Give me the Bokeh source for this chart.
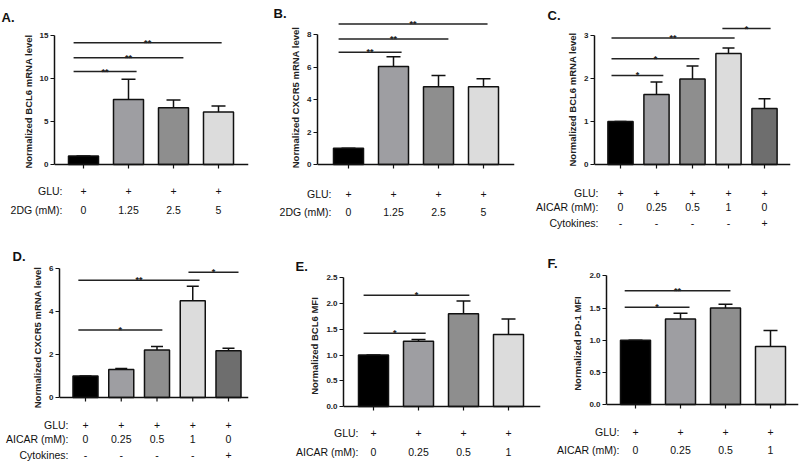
from bokeh.plotting import figure
from bokeh.models import (Range1d, FixedTicker, Whisker, TeeHead, Span,
                          ColumnDataSource, PrintfTickFormatter)
from bokeh.layouts import row, column
from bokeh.embed import file_html
from bokeh.resources import INLINE
from bokeh.core.properties import value

FONT = "Liberation Sans"

# ---------------- data ----------------
A_values = [1.0, 7.55, 6.6, 6.1]
A_sem = [0.0, 2.35, 0.9, 0.7]
A_sig = [(-0.22, 1.18, 10.8, "**"), (-0.22, 2.22, 12.4, "**"), (-0.22, 3.07, 14.15, "**")]
A_yticks = [0, 5, 10, 15]

B_values = [1.0, 6.05, 4.8, 4.8]
B_sem = [0.0, 0.6, 0.7, 0.5]
B_sig = [(-0.22, 1.18, 6.93, "**"), (-0.22, 2.22, 7.75, "**"), (-0.22, 3.09, 8.68, "**")]
B_yticks = [0, 2, 4, 6, 8]

C_values = [1.0, 1.63, 1.99, 2.58, 1.30]
C_sem = [0.0, 0.29, 0.30, 0.13, 0.23]
C_sig = [(-0.25, 1.19, 2.07, "*"), (-0.25, 2.19, 2.46, "*"), (-0.25, 3.17, 2.94, "**"),
         (2.83, 4.17, 3.16, "*")]
C_yticks = [0, 1, 2, 3]

D_values = [1.0, 1.3, 2.2, 4.48, 2.17]
D_sem = [0.0, 0.04, 0.16, 0.68, 0.11]
D_sig = [(-0.2, 2.15, 3.13, "*"), (-0.2, 3.19, 5.43, "**"), (2.88, 4.28, 5.81, "*")]
D_yticks = [0, 2, 4, 6]

E_values = [1.0, 1.27, 1.80, 1.40]
E_sem = [0.0, 0.03, 0.25, 0.30]
E_sig = [(-0.22, 1.16, 1.425, "*"), (-0.22, 2.13, 2.16, "*")]
E_yticks = [0, 0.5, 1.0, 1.5, 2.0, 2.5]

F_values = [1.0, 1.33, 1.50, 0.90]
F_sem = [0.0, 0.09, 0.06, 0.25]
F_sig = [(-0.24, 1.2, 1.51, "*"), (-0.24, 2.11, 1.77, "**")]
F_yticks = [0, 0.5, 1.0, 1.5, 2.0]

glu4 = ["+", "+", "+", "+"]
glu5 = ["+", "+", "+", "+", "+"]
dg_mM = ["0", "1.25", "2.5", "5"]
aicar5 = ["0", "0.25", "0.5", "1", "0"]
aicar4 = ["0", "0.25", "0.5", "1"]
cytokines5 = ["-", "-", "-", "-", "+"]

colors4 = ["#000000", "#9e9ea2", "#8e8e8e", "#dcdcdc"]
colors5 = ["#000000", "#9e9ea2", "#8e8e8e", "#dcdcdc", "#6e6e6e"]

INK = "#111111"


def blank_fig(w, h, xr, yr):
    f = figure(width=w, height=h, x_range=xr, y_range=yr, output_backend="svg",
               toolbar_location=None, title=None, x_axis_location=None, y_axis_location=None,
               min_border=0, min_border_left=0, min_border_right=0, min_border_top=0,
               min_border_bottom=0, frame_align=False)
    f.outline_line_color = None
    f.grid.visible = False
    f.background_fill_color = "white"
    f.border_fill_color = "white"
    return f


def make_panel(letter, vals, sem, colors, sig, yticks, ylabel, rows, g, fmt=None):
    W, L, R = g["W"], g["L"], g["R"]
    c0, sp, ppu = g["c0"], g["sp"], g["ppu"]
    pad = g["pad"]  # px of frame kept below the zero line
    chart_top = g["y_top"] + g["letter_h"]
    mbt = g["frame_top"] - chart_top
    fh = g["y0"] - g["frame_top"]
    chart_h = mbt + fh + pad
    bottom_top = chart_top + chart_h
    bottom_h = g["y_top"] + g["H"] - bottom_top

    # ---- panel letter strip ----
    top = blank_fig(W, g["letter_h"], Range1d(0, W), Range1d(g["letter_h"], 0))
    lx, lb = g["letter"]
    top.text(x=[lx], y=[lb], text=[letter], text_align="left", text_baseline="alphabetic",
             text_font=value(FONT), text_font_size="13px", text_font_style="bold",
             text_color=INK)

    # ---- chart ----
    fw = W - L - R
    xs = -c0 / sp
    xr = Range1d(xs, xs + fw / sp)
    yr = Range1d(-pad / ppu, fh / ppu)
    p = figure(width=W, height=chart_h, x_range=xr, y_range=yr, output_backend="svg",
               toolbar_location=None, title=None, x_axis_location=None,
               min_border_left=L, min_border_right=R, min_border_top=mbt, min_border_bottom=0,
               frame_align=False)
    p.outline_line_color = None
    p.grid.visible = False
    p.background_fill_color = "white"
    p.border_fill_color = "white"

    n = len(vals)
    xcat = list(range(n))
    upper = [v + s for v, s in zip(vals, sem)]
    src = ColumnDataSource(dict(x=xcat, top=vals, upper=upper, color=colors,
                                tick=[-4 / ppu] * n, zero=[0] * n))
    p.vbar(x="x", top="top", bottom=0, width=g["bw"], fill_color="color",
           line_color=INK, line_width=1.5, source=src)
    p.add_layout(Whisker(base="x", lower="top", upper="upper", source=src,
                         line_color=INK, line_width=1.5,
                         upper_head=TeeHead(size=g["cap"], line_width=1.5, line_color=INK),
                         lower_head=None))
    # category axis: baseline at zero plus outward tick marks
    p.add_layout(Span(location=0, dimension="width", line_color=INK, line_width=1.5))
    p.segment(x0="x", x1="x", y0="zero", y1="tick", line_color=INK, line_width=1.2, source=src)

    sx0 = [s[0] for s in sig]
    sx1 = [s[1] for s in sig]
    ssrc = ColumnDataSource(dict(x0=sx0, x1=sx1, y=[s[2] for s in sig], t=[s[3] for s in sig],
                                 xm=[(a + b) / 2 for a, b in zip(sx0, sx1)]))
    p.segment(x0="x0", y0="y", x1="x1", y1="y", line_width=1.5, line_color="#222222", source=ssrc)
    p.text(x="xm", y="y", text="t", text_align="center", text_baseline="middle",
           text_font=value(FONT), text_font_size="9px", text_font_style="bold",
           text_color="#222222", source=ssrc)

    ya = p.yaxis[0]
    ya.ticker = FixedTicker(ticks=yticks)
    ya.bounds = (0, yticks[-1])
    ya.major_tick_out = 4
    ya.major_tick_in = 0
    ya.minor_tick_line_color = None
    ya.axis_line_width = 1.5
    ya.axis_line_color = INK
    ya.major_tick_line_color = INK
    ya.major_tick_line_width = 1.2
    ya.major_label_text_font = FONT
    ya.major_label_text_font_size = "8px"
    ya.major_label_text_font_style = "bold"
    ya.major_label_text_color = "#222222"
    ya.major_label_standoff = 2
    if fmt:
        ya.formatter = PrintfTickFormatter(format=fmt)
    ya.axis_label = ylabel
    ya.axis_label_text_font = FONT
    ya.axis_label_text_font_size = "9.5px"
    ya.axis_label_text_font_style = "bold"
    ya.axis_label_text_color = "#222222"
    ya.axis_label_standoff = 3

    # ---- condition rows strip (categories aligned with the chart) ----
    bxs = xs - L / sp
    bot = blank_fig(W, bottom_h, Range1d(bxs, bxs + W / sp), Range1d(bottom_h, 0))
    title_x = bxs + g["title_x"] / sp
    for (title, items), ry in zip(rows, g["rows"]):
        yl = ry - bottom_top
        bot.text(x=[title_x], y=[yl], text=[title], text_align="right", text_baseline="middle",
                 text_font=value(FONT), text_font_size="10.5px", text_color=INK)
        bot.text(x=xcat, y=[yl] * n, text=items, text_align="center", text_baseline="middle",
                 text_font=value(FONT), text_font_size="10.5px", text_color=INK)
    return column(top, p, bot)


gA = dict(W=262, y_top=0, H=232, letter_h=28, frame_top=28, y0=164, pad=10, L=54, R=14,
          c0=29, sp=45, ppu=8.6, bw=0.667, cap=14, letter=(1, 17), rows=[190, 209], title_x=62)
gB = dict(W=271, y_top=0, H=232, letter_h=20, frame_top=20, y0=164, pad=10, L=55, R=19,
          c0=31, sp=45, ppu=16.2, bw=0.667, cap=14, letter=(11, 13), rows=[193, 211], title_x=69)
gC = dict(W=267, y_top=0, H=232, letter_h=24, frame_top=24, y0=164, pad=10, L=61, R=10,
          c0=26, sp=36, ppu=43.0, bw=0.7, cap=12, letter=(14, 15), rows=[192.7, 206.7, 222.7],
          title_x=65)
gD = dict(W=262, y_top=232, H=230, letter_h=31, frame_top=263, y0=397, pad=14, L=59, R=14,
          c0=26, sp=35.75, ppu=21.57, bw=0.7, cap=12, letter=(12, 24), rows=[424.3, 438.3, 454.5],
          title_x=68)
gE = dict(W=283, y_top=232, H=230, letter_h=41, frame_top=275, y0=406, pad=10, L=81, R=5,
          c0=30, sp=45, ppu=51.46, bw=0.667, cap=14, letter=(33, 34), rows=[432, 451], title_x=96)
gF = dict(W=255, y_top=232, H=230, letter_h=38, frame_top=272, y0=404, pad=10, L=61, R=2,
          c0=29, sp=45, ppu=64.33, bw=0.667, cap=14, letter=(2, 31), rows=[431, 449], title_x=74)

pA = make_panel("A.", A_values, A_sem, colors4, A_sig, A_yticks, "Normalized BCL6 mRNA level",
                [("GLU:", glu4), ("2DG (mM):", dg_mM)], gA)
pB = make_panel("B.", B_values, B_sem, colors4, B_sig, B_yticks, "Normalized CXCR5 mRNA level",
                [("GLU:", glu4), ("2DG (mM):", dg_mM)], gB)
pC = make_panel("C.", C_values, C_sem, colors5, C_sig, C_yticks, "Normalized BCL6 mRNA level",
                [("GLU:", glu5), ("AICAR (mM):", aicar5), ("Cytokines:", cytokines5)], gC)
pD = make_panel("D.", D_values, D_sem, colors5, D_sig, D_yticks, "Normalized CXCR5 mRNA level",
                [("GLU:", glu5), ("AICAR (mM):", aicar5), ("Cytokines:", cytokines5)], gD)
pE = make_panel("E.", E_values, E_sem, colors4, E_sig, E_yticks, "Normalized BCL6 MFI",
                [("GLU:", glu4), ("AICAR (mM):", aicar4)], gE, fmt="%.1f")
pF = make_panel("F.", F_values, F_sem, colors4, F_sig, F_yticks, "Normalized PD-1 MFI",
                [("GLU:", glu4), ("AICAR (mM):", aicar4)], gF, fmt="%.1f")

layout = column(row(pA, pB, pC), row(pD, pE, pF))
open("out.html", "w").write(file_html(layout, INLINE))
